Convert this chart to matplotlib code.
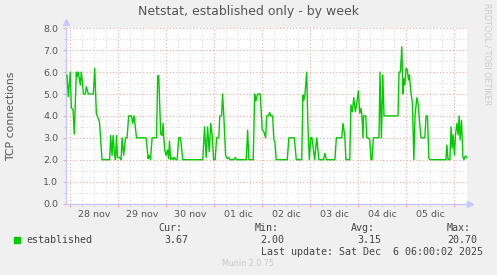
import matplotlib
matplotlib.use("Agg")
import matplotlib.pyplot as plt
from matplotlib.patches import Rectangle
import numpy as np

W, H = 497, 275

# hours since 28 nov 00:00 -> TCP connections
hours = [
    -1.5, -0.85, 0.15, 0.65, 1.5, 2.15, 3.15, 3.65, 4.15, 5.15, 5.65, 6.15, 6.65,
    7.65, 8.15, 9.15, 11.65, 12.35, 13.15, 13.65, 13.8, 14.7, 16, 19.8, 20.3, 21,
    21.5, 22.2, 22.7, 23.2, 23.7, 24.8, 25.5, 26, 26.8, 27.7, 28.5, 29.3, 30.7,
    31.3, 32, 33.2, 38, 39, 39.5, 40.2, 41, 43.2, 43.8, 44.3, 45.3, 46, 46.5,
    46.8, 47.3, 48, 48.7, 49.2, 49.7, 50.2, 51, 51.5, 52.2, 52.8, 53.5, 54.3,
    55.2, 56.3, 66.3, 67.2, 68, 68.7, 69.5, 70.3, 71, 71.7, 72.5, 73.2, 74.3,
    74.8, 75.7, 76.2, 76.8, 77.7, 78.5, 79.2, 79.8, 81.8, 82.5, 83.2, 88, 88.7,
    89.3, 91.5, 92.2, 92.8, 93.7, 95, 96, 96.8, 97.7, 98.2, 99, 99.7, 100.2,
    101.2, 101.8, 102.3, 103, 108.5, 109.3, 112, 113, 115.7, 116.3, 116.7, 117.3,
    118.2, 118.8, 119.5, 120.2, 120.8, 122.2, 123.2, 124.3, 126.5, 127.3, 128,
    132.3, 133, 135.7, 136.3, 137.2, 137.8, 139.7, 140.3, 141, 141.7, 142.5,
    143.2, 144, 144.7, 145.3, 145.8, 146.3, 146.6, 147.7, 148.2, 149, 149.7,
    150.3, 150.8, 151.5, 154.3, 154.8, 155.5, 156.2, 156.8, 163.8, 164.3, 165,
    165.7, 166.2, 166.7, 167.2, 167.8, 168.5, 169, 169.5, 170.2, 171, 171.7,
    172.3, 173.2, 173.8, 174.7, 175.3, 177.2, 177.8, 178.5, 179.2, 179.8, 187.7,
    188.2, 188.8, 189.7, 190.3, 190.8, 191.3, 192, 192.5, 193.2, 193.8, 194.3,
    194.8, 195.5, 196.2, 196.7, 197.2, 197.7, 198,
]
established = [
    5.86, 4.88, 6.0, 4.36, 4.3, 3.17, 6.0, 5.8, 6.0, 5.41, 6.0, 5.6, 5.0,
    5.0, 5.33, 5.0, 5.0, 6.17, 4.12, 4.0, 3.96, 3.73, 2.0, 2.0, 3.1, 2.2,
    3.1, 2.3, 2.0, 3.1, 2.1, 2.1, 2.0, 3.0, 2.2, 3.0, 3.0, 4.0, 4.0,
    3.66, 4.0, 3.0, 3.0, 2.05, 2.2, 2.0, 3.0, 3.0, 5.84, 5.84, 3.17, 3.1, 3.66,
    3.05, 2.44, 2.2, 2.44, 2.05, 2.85, 2.0, 2.1, 2.0, 2.1, 2.0, 2.0, 3.0,
    3.0, 2.0, 2.0, 3.5, 2.1, 3.5, 2.36, 3.66, 3.1, 2.0, 2.0, 3.0, 3.0,
    4.0, 4.0, 5.0, 4.0, 2.2, 2.05, 2.1, 2.0, 2.0, 2.1, 2.0, 2.0, 3.35,
    2.0, 2.0, 5.0, 4.68, 5.0, 5.0, 3.35, 3.28, 3.0, 4.0, 4.0, 4.16, 4.0,
    4.0, 2.9, 2.82, 2.0, 2.0, 3.0, 3.0, 2.0, 2.0, 4.95, 4.7, 4.95,
    6.0, 3.58, 2.0, 3.0, 3.0, 2.0, 3.0, 2.0, 2.0, 2.29, 2.0,
    2.0, 3.0, 3.0, 3.66, 3.1, 2.0, 2.0, 4.5, 4.19, 4.83, 4.19,
    4.57, 5.14, 4.12, 4.34, 4.0, 3.0, 4.0, 4.0, 3.0, 3.0, 2.9,
    2.0, 2.0, 3.0, 3.0, 6.0, 3.0, 5.87, 4.0, 4.0, 6.0, 6.0,
    7.16, 5.0, 5.7, 5.4, 6.17, 6.1, 5.64, 5.87, 5.1, 4.57, 2.0,
    4.04, 4.83, 4.57, 3.58, 3.0, 3.0, 4.0, 4.0, 2.06, 2.0, 2.0,
    2.67, 2.0, 2.0, 3.5, 2.52, 3.13, 2.2, 3.13, 3.66, 3.13, 4.0,
    2.9, 3.8, 2.14, 2.0, 2.14, 2.17, 2.1,
]
day_labels = ["28 nov", "29 nov", "30 nov", "01 dic", "02 dic", "03 dic", "04 dic", "05 dic"]
legend_name = "established"
stats_head = ["Cur:", "Min:", "Avg:", "Max:"]
stats_vals = ["3.67", "2.00", "3.15", "20.70"]

GREEN = "#00CC00"
TXT = "#555555"
RED = "#E8A8A8"
GREY = "#DADADA"
AXC = "#C8C8FF"

fig = plt.figure(figsize=(W / 100, H / 100), dpi=100, facecolor="#F0F0F0")
x0, x1, ytop, ybot = 66, 466.5, 28.3, 203.5
ax = fig.add_axes([x0 / W, 1 - ybot / H, (x1 - x0) / W, (ybot - ytop) / H])
ax.set_facecolor("white")

ax.set_xlim(-2, 198)
ax.set_ylim(0, 8)

# grid: grey every 6h / 0.5, red every day / 1.0
for h in np.arange(0, 198, 6):
    ax.axvline(h, color=RED if h % 24 == 0 else GREY, lw=0.8,
               ls=(0, (1, 2)), zorder=1)
for v in np.arange(0.5, 8.01, 0.5):
    ax.axhline(v, color=RED if v % 1 == 0 else GREY, lw=0.8,
               ls=(0, (1, 2)), zorder=1)

ax.plot(hours, established, color=GREEN, lw=1.0, zorder=3)

for s in ["top", "right"]:
    ax.spines[s].set_visible(False)
for s in ["left", "bottom"]:
    ax.spines[s].set_color(AXC)
    ax.spines[s].set_linewidth(1.0)

# arrows at ends of axes
ax.plot([-2], [8.27], marker="^", ms=4, color=AXC, clip_on=False, zorder=5)
ax.plot([199.8], [0], marker=">", ms=4, color=AXC, clip_on=False, zorder=5)

ax.set_xticks(np.arange(0, 198, 24))
ax.set_xticklabels([])
ax.set_xticks(np.arange(0, 198, 6), minor=True)
ax.set_xticklabels([day_labels[int(h // 24)] if h % 24 == 12 else ""
                    for h in np.arange(0, 198, 6)], minor=True)
ax.tick_params(axis="x", which="major", length=2.5, color=RED, width=0.8)
ax.tick_params(axis="x", which="minor", length=2, color=GREY, width=0.8,
               labelsize=6.8, labelcolor=TXT, pad=2.5)

ax.set_yticks(np.arange(0, 8.01, 1))
ax.set_yticklabels(["%.1f" % v for v in np.arange(0, 8.01, 1)])
ax.set_yticks(np.arange(0.5, 8, 1), minor=True)
ax.tick_params(axis="y", which="major", length=2.5, color=RED, width=0.8,
               labelsize=6.8, labelcolor=TXT, pad=3)
ax.tick_params(axis="y", which="minor", length=2, color=GREY, width=0.8)


def px(x, y):
    return x / W, 1 - y / H


fig.text(*px(249, 12), "Netstat, established only - by week", ha="center",
         va="center", fontsize=9, color=TXT)
fig.text(*px(11, 116), "TCP connections", rotation=90, ha="center",
         va="center", fontsize=7.8, color=TXT)
fig.text(*px(487, 54), "RRDTOOL / TOBI OETIKER", rotation=270, ha="center",
         va="center", fontsize=5.8, color="#CCCCCC")

mono = dict(family="DejaVu Sans Mono", fontsize=7.2, color="#444444", va="center")
fig.patches.append(Rectangle(px(14, 242.5), 5.5 / W, 5.5 / H,
                             transform=fig.transFigure, color=GREEN))
fig.text(*px(26, 239.7), legend_name, **mono)
for xh, t in zip([158.7, 254.7, 351, 447], stats_head):
    fig.text(*px(xh, 228), t, **mono)
for xv, t in zip([164.7, 260.7, 357, 447.3], stats_vals):
    fig.text(*px(xv, 239.7), t, **mono)
fig.text(*px(261, 251.7), "Last update: Sat Dec  6 06:00:02 2025", **mono)
fig.text(*px(248, 264), "Munin 2.0.75", ha="center", va="center",
         fontsize=5.8, color="#C8C8C8")

fig.savefig("out.png", dpi=100, facecolor=fig.get_facecolor())
